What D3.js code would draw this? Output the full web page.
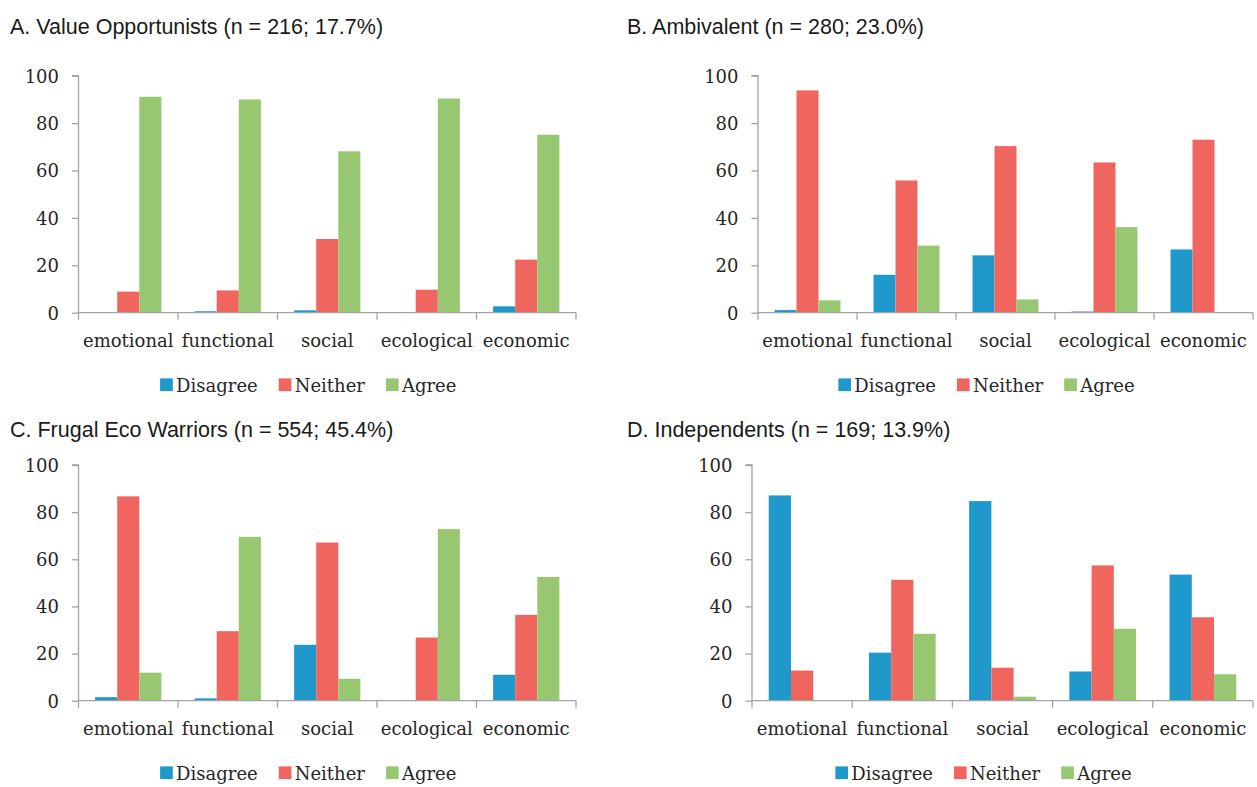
<!DOCTYPE html>
<html>
<head>
<meta charset="utf-8">
<script src="https://cdn.jsdelivr.net/npm/d3@7"></script>
<style>
  html, body { margin: 0; padding: 0; background: #ffffff; }
  svg { display: block; }
  .title { font-family: "Liberation Sans", Arial, sans-serif; font-size: 21.5px; fill: #1a1a1a; }
  .ser { font-family: "DejaVu Serif", "Liberation Serif", serif; font-size: 18px; fill: #262626; }
</style>
</head>
<body>
<svg id="chart" width="1257" height="787"></svg>
<script>
// ---- data ----
const categories = ["emotional", "functional", "social", "ecological", "economic"];
const seriesNames = ["Disagree", "Neither", "Agree"];
const yTicks = [0, 20, 40, 60, 80, 100];

const titles = [
  "A. Value Opportunists (n = 216; 17.7%)",
  "B. Ambivalent (n = 280; 23.0%)",
  "C. Frugal Eco Warriors (n = 554; 45.4%)",
  "D. Independents (n = 169; 13.9%)"
];

const disagreeA = [0, 0.6, 1.0, 0, 2.7];
const neitherA  = [8.9, 9.4, 31.1, 9.7, 22.4];
const agreeA    = [91.1, 90.0, 68.1, 90.4, 75.1];

const disagreeB = [1.1, 16.0, 24.2, 0.5, 26.7];
const neitherB  = [93.8, 55.8, 70.3, 63.4, 73.0];
const agreeB    = [5.2, 28.3, 5.6, 36.1, 0];

const disagreeC = [1.5, 1.0, 23.7, 0, 11.0];
const neitherC  = [86.7, 29.5, 67.1, 26.8, 36.4];
const agreeC    = [11.9, 69.5, 9.3, 72.8, 52.5];

const disagreeD = [87.1, 20.4, 84.7, 12.4, 53.5];
const neitherD  = [12.8, 51.3, 14.0, 57.4, 35.4];
const agreeD    = [0, 28.4, 1.7, 30.5, 11.2];

const colors = ["#1f99cc", "#f0655e", "#98c772"];

// ---- layout ----
const panels = [
  { title: titles[0], series: [disagreeA, neitherA, agreeA], tx: 10,  ty: 34,  x0: 78.5,  x1: 576,  yTop: 75.7, yZero: 312.7 },
  { title: titles[1], series: [disagreeB, neitherB, agreeB], tx: 627, ty: 34,  x0: 758,   x1: 1253, yTop: 75.7, yZero: 312.7 },
  { title: titles[2], series: [disagreeC, neitherC, agreeC], tx: 10,  ty: 436.7, x0: 78.5, x1: 576,  yTop: 465,  yZero: 700.7 },
  { title: titles[3], series: [disagreeD, neitherD, agreeD], tx: 627, ty: 436.7, x0: 752, x1: 1253, yTop: 465,  yZero: 700.7 }
];

const svg = d3.select("#chart");
const axisColor = "#a3a3a3";

panels.forEach(p => {
  const g = svg.append("g");

  g.append("text").attr("class", "title").attr("x", p.tx).attr("y", p.ty).text(p.title);

  const x = d3.scaleBand().domain(categories).range([p.x0, p.x1]).padding(0);
  const bw = x.bandwidth();
  const xi = d3.scaleBand().domain(seriesNames).range([bw * 0.167, bw * 0.833]).padding(0);
  const y = d3.scaleLinear().domain([0, 100]).range([p.yZero, p.yTop]);

  // bars
  seriesNames.forEach((s, si) => {
    g.append("g").selectAll("rect")
      .data(categories.map((c, ci) => ({ c, v: p.series[si][ci] })))
      .join("rect")
      .attr("x", d => x(d.c) + xi(s))
      .attr("width", xi.bandwidth())
      .attr("y", d => y(d.v))
      .attr("height", d => y(0) - y(d.v))
      .attr("fill", colors[si]);
  });

  // y axis
  const yAxis = d3.axisLeft(y).tickValues(yTicks).tickSize(6.5).tickPadding(13).tickFormat(d3.format("d"));
  const ya = g.append("g").attr("transform", `translate(${p.x0},0)`).call(yAxis);
  ya.attr("font-family", null).attr("font-size", null);
  ya.select(".domain").attr("stroke", axisColor).attr("stroke-width", 1.3).attr("d", `M-6.5,${p.yTop}H0V${p.yZero}`);
  ya.selectAll(".tick line").attr("stroke", axisColor).attr("stroke-width", 1.3);
  ya.selectAll(".tick text").attr("class", "ser").attr("dy", "0.35em").attr("fill", null);

  // x axis with boundary ticks
  const xa = g.append("g").attr("transform", `translate(0,${p.yZero})`);
  xa.append("path").attr("d", `M${p.x0},0H${p.x1}`).attr("stroke", axisColor).attr("stroke-width", 1.3).attr("fill", "none");
  const bounds = categories.map(c => x(c)).concat([p.x1]);
  xa.selectAll("line.b").data(bounds).join("line")
    .attr("x1", d => d).attr("x2", d => d).attr("y1", 0).attr("y2", 7)
    .attr("stroke", axisColor).attr("stroke-width", 1.3);
  xa.selectAll("text.cat").data(categories).join("text")
    .attr("class", "ser")
    .attr("x", d => x(d) + bw / 2)
    .attr("y", 34)
    .attr("text-anchor", "middle")
    .text(d => d);

  // legend
  const lg = g.append("g").attr("transform", `translate(0,${p.yZero + 79})`);
  const items = lg.selectAll("g").data(seriesNames).join("g");
  items.append("rect").attr("width", 12.7).attr("height", 12.7).attr("y", -13.3)
    .attr("fill", (d, i) => colors[i]);
  items.append("text").attr("class", "ser").attr("x", 16).attr("y", 0).text(d => d);
  let widths = [];
  items.each(function () { widths.push(16 + d3.select(this).select("text").node().getComputedTextLength()); });
  const gap = 21;
  const total = d3.sum(widths) + gap * (widths.length - 1);
  const center = (p.x0 + p.x1) / 2 - 19;
  let cx = center - total / 2;
  items.attr("transform", (d, i) => {
    const t = `translate(${cx},0)`;
    cx += widths[i] + gap;
    return t;
  });
});
</script>
</body>
</html>
